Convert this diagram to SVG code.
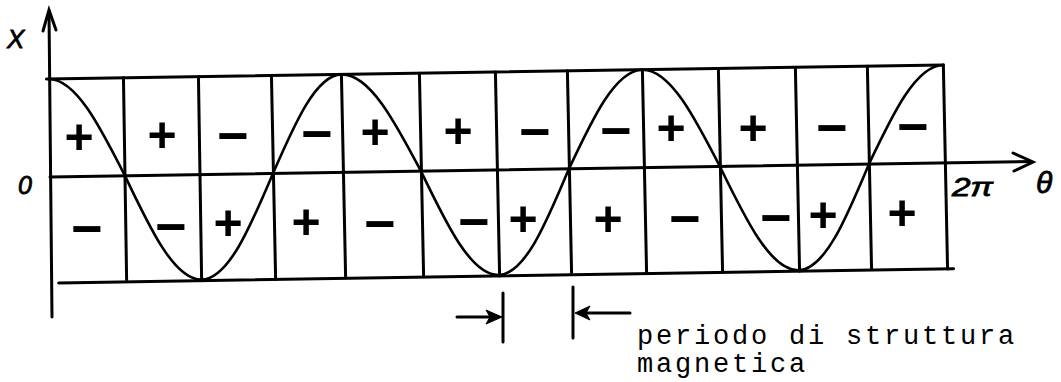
<svg xmlns="http://www.w3.org/2000/svg" width="1061" height="382" viewBox="0 0 1061 382">
<defs>
<style>
.ln{stroke:#000;stroke-width:3;fill:none;stroke-linecap:round}
.wv{stroke:#000;stroke-width:2.6;fill:none;stroke-linejoin:round}
.p{font-family:"Liberation Sans",Arial,sans-serif;font-weight:bold;font-size:50px;text-anchor:middle;fill:#000}
.m{font-family:"Liberation Sans",Arial,sans-serif;font-weight:bold;font-size:54px;text-anchor:middle;fill:#000}
.hand{font-family:"Liberation Sans",Arial,sans-serif;font-style:italic;fill:#000;stroke:#000;stroke-width:0.8}
.tw{font-family:"Liberation Mono","Courier New",monospace;font-size:27px;letter-spacing:2.8px;fill:#000}
.ah{fill:#000;stroke:#000;stroke-width:1;stroke-linejoin:round}
</style>
</defs>
<rect width="1061" height="382" fill="#fff"/>
<g id="grid" transform="rotate(-0.9 50 177)">
  <line class="ln" x1="48" y1="79" x2="945" y2="79"/>
  <line class="ln" x1="50" y1="177" x2="1031" y2="177"/>
  <line class="ln" x1="57" y1="283" x2="952" y2="283"/>
  <line class="ln" x1="125" y1="79" x2="125" y2="281"/>
  <line class="ln" x1="200" y1="79" x2="200" y2="283"/>
  <line class="ln" x1="273" y1="79" x2="274" y2="283"/>
  <line class="ln" x1="343" y1="79" x2="344" y2="281"/>
  <line class="ln" x1="421" y1="79" x2="422" y2="281"/>
  <line class="ln" x1="497" y1="79" x2="498" y2="283"/>
  <line class="ln" x1="569" y1="79" x2="570" y2="281"/>
  <line class="ln" x1="644" y1="79" x2="645" y2="281"/>
  <line class="ln" x1="720" y1="79" x2="721" y2="283"/>
  <line class="ln" x1="797" y1="79" x2="798" y2="283"/>
  <line class="ln" x1="869" y1="79" x2="870" y2="281"/>
  <line class="ln" x1="945" y1="79" x2="946" y2="283"/>
  <path id="wave" class="wv" d="M50,79 C77.1,79 100.5,126.8 125,177 C149.5,230.8 172.9,282 200,282 C226.4,282 249.2,230.8 273,177 C295.8,126.8 317.7,79 343,79 C371.2,79 395.6,126.8 421,177 C445.8,230.8 469.5,282 497,282 C523.1,282 545.5,230.8 569,177 C593.5,126.8 616.9,79 644,79 C671.5,79 695.2,126.8 720,177 C745.1,230.8 769.1,282 797,282 C823.1,282 845.5,230.8 869,177 C893.8,126.8 917.5,79 945,79"/>
</g>
<g id="axes">
  <line class="ln" x1="49" y1="12" x2="52" y2="317"/>
  <polyline class="ln" points="43,31 49,10 56,30"/>
  <polyline class="ln" points="1013,153 1033,162 1014,171"/>
</g>
<g id="signs">
  <text class="p" x="79" y="154">+</text>
  <text class="p" x="162" y="152">+</text>
  <text class="m" x="233" y="154">−</text>
  <text class="m" x="317" y="152">−</text>
  <text class="p" x="375" y="149">+</text>
  <text class="p" x="458" y="148">+</text>
  <text class="m" x="535" y="150">−</text>
  <text class="m" x="616" y="149">−</text>
  <text class="p" x="671" y="145">+</text>
  <text class="p" x="753" y="145">+</text>
  <text class="m" x="832" y="146">−</text>
  <text class="m" x="913" y="145">−</text>
  <text class="m" x="87" y="247">−</text>
  <text class="m" x="171" y="245">−</text>
  <text class="p" x="228" y="240">+</text>
  <text class="p" x="306" y="239">+</text>
  <text class="m" x="380" y="242">−</text>
  <text class="m" x="474" y="240">−</text>
  <text class="p" x="523" y="236">+</text>
  <text class="p" x="608" y="236">+</text>
  <text class="m" x="685" y="237">−</text>
  <text class="m" x="776" y="236">−</text>
  <text class="p" x="823" y="232">+</text>
  <text class="p" x="902" y="230">+</text>
</g>
<g id="labels">
  <text class="hand" x="7" y="48" font-size="26">X</text>
  <text class="hand" x="18" y="194" font-size="25">0</text>
  <text class="hand" x="952" y="196" font-size="26" textLength="41" lengthAdjust="spacingAndGlyphs">2π</text>
  <text class="hand" x="1036" y="193" font-size="30">θ</text>
</g>
<g id="period">
  <line class="ln" x1="457" y1="317" x2="492" y2="317"/>
  <polygon class="ah" points="502,317 486,310 490,317 486,324"/>
  <line class="ln" x1="503" y1="293" x2="503" y2="342"/>
  <line class="ln" x1="573" y1="287" x2="573" y2="338"/>
  <line class="ln" x1="584" y1="313" x2="630" y2="313"/>
  <polygon class="ah" points="575,313 590,306 586,313 590,320"/>
  <text class="tw" x="637" y="344">periodo di struttura</text>
  <text class="tw" x="637" y="372">magnetica</text>
</g>
</svg>
